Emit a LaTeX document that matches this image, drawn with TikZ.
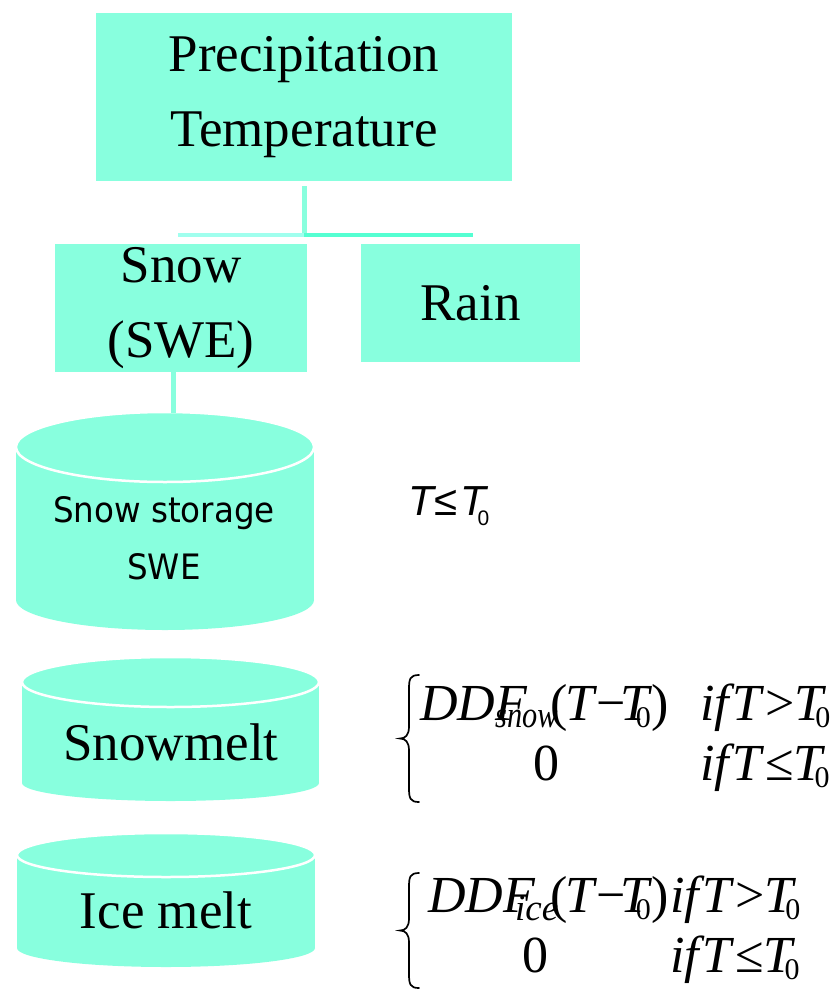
\documentclass[tikz,border=0pt]{standalone}
\usepackage{fontspec}
\usepackage{graphicx}
\setmainfont{Liberation Serif}
\newfontfamily\storagefont[FakeStretch=0.93]{DejaVu Sans}
\newfontfamily\condfont{Liberation Sans}

\definecolor{aqua}{RGB}{136,255,222}
\definecolor{aqualight}{RGB}{160,255,238}
\definecolor{aquadeep}{RGB}{85,255,210}

\newcommand\bigserif{\fontsize{53}{75}\selectfont}
\newcommand\eqfont{\fontsize{52}{52}\selectfont}
\newcommand\subfont{\fontsize{37}{37}\selectfont}
% T with a lowered upright 0 tucked under its arm
\newcommand\Tsub[1]{\textit{T}\kern#1\raisebox{-7pt}{\fontsize{30}{30}\selectfont 0}}
% (T - T0) with tight equation spacing
\newcommand\argdiff{(\kern-2pt\textit{T}\kern-1pt−\kern-5pt\Tsub{-17pt}\kern0.5pt)}
% conditions
\newcommand\condgt{\textit{if}\kern-3pt\textit{T}\kern1pt>\kern0pt\Tsub{-11pt}}
\newcommand\condle{\textit{if}\kern-3pt\textit{T}\kern1pt≤\kern0pt\Tsub{-11pt}}

% tank: centre x, top-ellipse centre y, x radius, top y radius, body bottom y, bottom y radius
\newcommand\tank[6]{%
  \fill[aqua] ({#1-#3},#2) rectangle ({#1+#3},#5);
  \fill[aqua] (#1,#5) ellipse [x radius=#3pt, y radius=#6pt];
  \filldraw[fill=aqua, draw=white, line width=2.5pt] (#1,#2) ellipse [x radius=#3pt, y radius=#4pt];
}

% curly brace: bar x, top y, bottom y
\newcommand\curlybrace[3]{%
  \draw[bracestyle] ({#1+10},#2) .. controls ({#1+1},#2) and (#1,{#2+4}) .. (#1,{#2+14})
    -- (#1,{(#2+#3)/2-12}) .. controls (#1,{(#2+#3)/2-3}) and ({#1-4},{(#2+#3)/2}) .. ({#1-9},{(#2+#3)/2})
    .. controls ({#1-4},{(#2+#3)/2}) and (#1,{(#2+#3)/2+3}) .. (#1,{(#2+#3)/2+12})
    -- (#1,{#3-14}) .. controls (#1,{#3-4}) and ({#1+1},#3) .. ({#1+10},#3);
}

\tikzset{
  box/.style={fill=aqua, inner sep=0pt, align=center, font=\bigserif},
  vline/.style={draw=aqua, line width=5pt},
  eq/.style={anchor=base west, inner sep=0pt, font=\eqfont},
  tanklabel/.style={inner sep=0pt, font=\bigserif},
  bracestyle/.style={line width=1.7pt, line cap=round}
}

\begin{document}
\begin{tikzpicture}[x=1pt, y=-1pt]
\useasboundingbox (0,0) rectangle (834,990);

% input boxes
\node[box, minimum width=416pt, minimum height=168pt] (precip) at (304,97)
  {Precipitation\\Temperature};
\node[box, minimum width=252pt, minimum height=128pt] (snow) at (181,308)
  {Snow\\(SWE)};
\node[box, minimum width=219pt, minimum height=118pt] (rain) at (470.5,303)
  {Rain};

% split into snow and rain
\coordinate (junction) at (304,235);
\coordinate (splitL) at (178,235);
\coordinate (splitR) at (473,235);
\draw[vline, shorten <=5pt] (precip.south) -- (junction);
\draw[aqualight, line width=4pt] (junction) -- (splitL);
\draw[aquadeep, line width=4pt] (junction) -- (splitR);

% storages
\tank{165}{447}{149}{35}{600}{30}
\tank{170.5}{682}{148.5}{25}{783}{18}
\tank{166}{855}{149}{22}{948}{19}

\coordinate (storeTop) at (173,413);
\draw[vline] (snow.south -| storeTop) -- (storeTop);

\node[inner sep=0pt, align=center, font=\storagefont\fontsize{35}{57}\selectfont]
  (storage) at (164,538.5) {Snow storage\\SWE};
\node[tanklabel, anchor=base] (snowmelt) at (171,760) {Snowmelt};
\node[tanklabel, anchor=base] (icemelt) at (166,928) {Ice melt};

% accumulation condition
\node[anchor=base west, inner sep=0pt, font=\condfont\fontsize{42}{42}\selectfont] (accum) at (408,515)
  {\itshape T\kern1pt\upshape ≤\kern3pt\itshape T\kern-9pt\raisebox{-10pt}{\fontsize{21}{21}\selectfont\upshape 0}};

% snowmelt rate
\curlybrace{409}{675}{802}
\node[eq] (f1ddf) at (420,720) {\textit{DDF}};
\node[eq] (f1sub) at (495,727) {\subfont\scalebox{0.82}[1]{\textit{snow}}};
\node[eq] (f1arg) at (550,720) {\argdiff};
\node[eq] (f1gt) at (700,720) {\condgt};
\node[eq] (f1zero) at (533,780) {0};
\node[eq] (f1le) at (700,780) {\condle};

% ice melt rate
\curlybrace{409}{873}{988}
\node[eq] (f2ddf) at (428,912) {\textit{DDF}};
\node[eq] (f2sub) at (515,920) {\subfont\textit{ice}};
\node[eq] (f2arg) at (550,912) {\argdiff};
\node[eq] (f2gt) at (670,912) {\condgt};
\node[eq] (f2zero) at (522,972) {0};
\node[eq] (f2le) at (670,972) {\condle};
\end{tikzpicture}
\end{document}
